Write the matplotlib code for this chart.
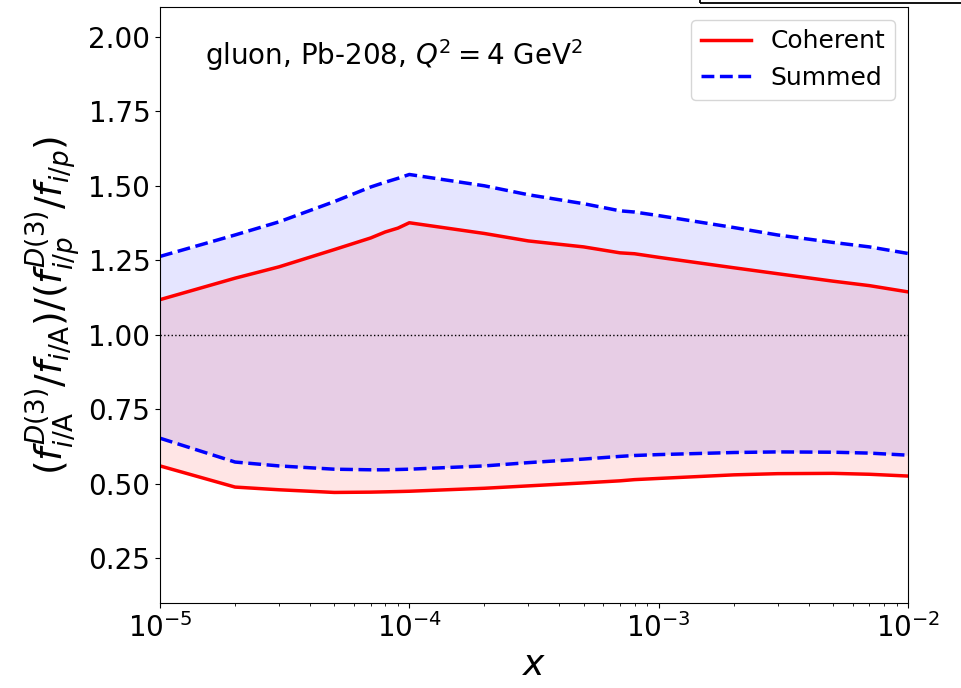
import numpy as np
import matplotlib.pyplot as plt
from matplotlib.patches import Rectangle

# x grid (log spaced) and ratio bands
x = [1e-5, 2e-5, 3e-5, 5e-5, 7e-5, 8e-5, 9e-5, 1e-4, 2e-4, 3e-4, 5e-4, 7e-4,
     8e-4, 1e-3, 2e-3, 3e-3, 5e-3, 7e-3, 1e-2]

coh_upper = [1.118, 1.19, 1.228, 1.286, 1.325, 1.345, 1.358, 1.376, 1.34,
             1.315, 1.295, 1.275, 1.272, 1.26, 1.225, 1.205, 1.18, 1.165, 1.144]
coh_lower = [0.56, 0.489, 0.480, 0.471, 0.472, 0.473, 0.474, 0.475, 0.485,
             0.493, 0.503, 0.510, 0.514, 0.518, 0.530, 0.534, 0.535, 0.532, 0.526]

sum_upper = [1.263, 1.335, 1.379, 1.447, 1.496, 1.512, 1.525, 1.538, 1.50,
             1.47, 1.44, 1.416, 1.412, 1.40, 1.36, 1.335, 1.31, 1.295, 1.273]
sum_lower = [0.653, 0.573, 0.560, 0.549, 0.547, 0.547, 0.548, 0.549, 0.560,
             0.571, 0.583, 0.592, 0.595, 0.598, 0.605, 0.607, 0.606, 0.603, 0.596]

fig = plt.figure(figsize=(9.62, 6.88), dpi=100)
ax = fig.add_axes([160 / 962, 1 - 603 / 688, 748 / 962, 596 / 688])

ax.fill_between(x, sum_lower, sum_upper, color="blue", alpha=0.1, lw=0)
ax.fill_between(x, coh_lower, coh_upper, color="red", alpha=0.1, lw=0)

ax.plot(x, coh_upper, color="red", lw=2.5, label="Coherent")
ax.plot(x, coh_lower, color="red", lw=2.5)
ax.plot(x, sum_upper, color="blue", lw=2.5, ls="--", label="Summed")
ax.plot(x, sum_lower, color="blue", lw=2.5, ls="--")

ax.axhline(1.0, color="black", ls=":", lw=1)

ax.set_xscale("log")
ax.set_xlim(1e-5, 1e-2)
ax.set_ylim(0.1, 2.1)
ax.set_yticks([0.25, 0.5, 0.75, 1.0, 1.25, 1.5, 1.75, 2.0])
ax.tick_params(axis="both", which="major", labelsize=20)

ax.set_xlabel(r"$x$", fontsize=26)
ax.set_ylabel(r"$(f^{D(3)}_{i/\mathrm{A}}/f_{i/\mathrm{A}})/(f^{D(3)}_{i/p}/f_{i/p})$",
              fontsize=27)

ax.text(0.06, 0.92, r"gluon, Pb-208, $Q^2 = 4$ GeV$^2$", transform=ax.transAxes,
        fontsize=20, va="center", ha="left")
ax.legend(loc="upper right", fontsize=18)

# frame of a neighbouring panel, cut off at the top edge
fig.add_artist(Rectangle((700 / 962, 1 - 3 / 688), 0.4, 0.1,
                         transform=fig.transFigure, fill=False,
                         edgecolor="black", lw=1.3))

fig.savefig("out.png", dpi=100)
